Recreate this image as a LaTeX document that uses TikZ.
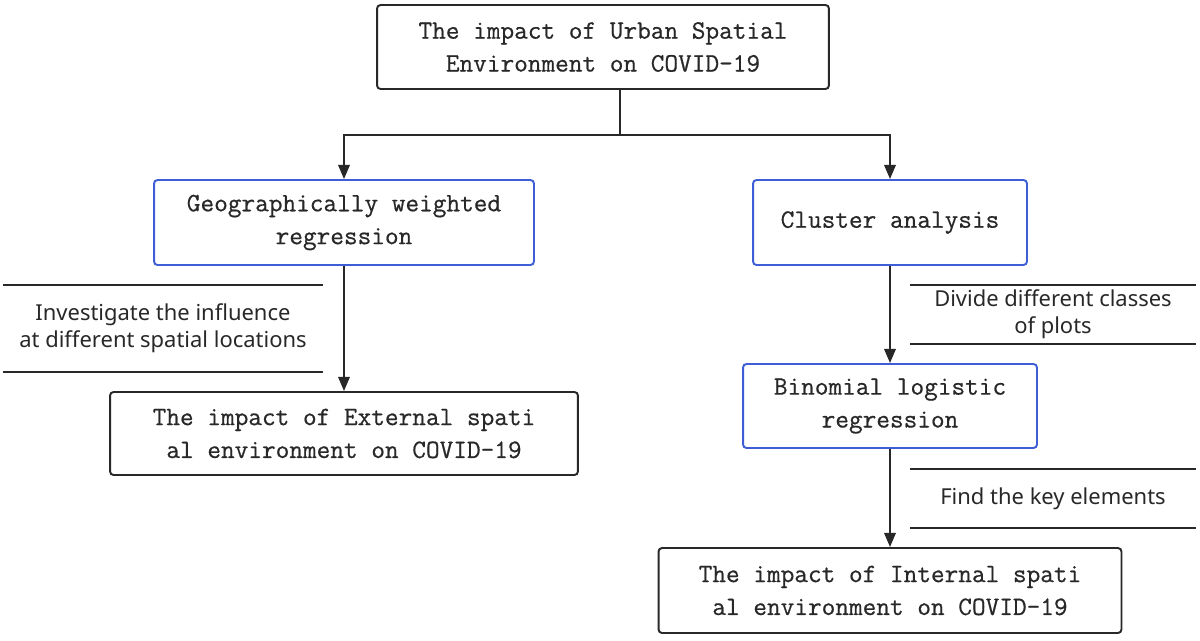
\documentclass[tikz,border=0pt]{standalone}
\usepackage{fontspec}
\setmainfont{Noto Sans}
\newfontfamily\boxfont[FakeBold=0.6]{Latin Modern Mono}
\usetikzlibrary{arrows.meta}
\definecolor{methodblue}{RGB}{62,94,214}
\definecolor{ink}{RGB}{40,40,40}

\begin{document}
\begin{tikzpicture}[x=0.02cm,y=-0.02cm,>={Triangle[length=8pt,width=6.5pt]},line width=1.1pt,color=ink]

\tikzstyle{plain}=[draw=ink,rounded corners=2pt,inner sep=0pt,align=center,font=\boxfont\fontsize{15.1}{18.7}\selectfont]
\tikzstyle{method}=[plain,draw=methodblue]
\tikzstyle{note}=[inner sep=0pt,align=center,font=\fontsize{12.5}{15.3}\selectfont]

    \path[use as bounding box] (0,0) rectangle (1200,640);

    % boxes
    \node[plain,minimum width=9.04cm,minimum height=1.68cm]  (urban) at (603,47)    {The impact of Urban Spatial\\Environment on COVID-19};
    \node[method,minimum width=7.6cm,minimum height=1.7cm]   (gwr)   at (344,222.5) {Geographically weighted\\regression};
    \node[method,minimum width=5.48cm,minimum height=1.7cm]  (clu)   at (890,222.5) {Cluster analysis};
    \node[plain,minimum width=9.36cm,minimum height=1.66cm]  (ext)   at (344,433.5) {The impact of External spati\\al environment on COVID-19};
    \node[method,minimum width=5.88cm,minimum height=1.68cm] (bin)   at (890,406)   {Binomial logistic\\regression};
    \node[plain,minimum width=9.26cm,minimum height=1.7cm]   (int)   at (890,590.5) {The impact of Internal spati\\al environment on COVID-19};

    % notes between two rules
    \node[note,minimum width=6.36cm,minimum height=1.7cm]  (why1) at (163,328.5)  {Investigate the influence\\at different spatial locations};
    \node[note,minimum width=5.68cm,minimum height=1.14cm] (why2) at (1053,314.5) {Divide different classes\\of plots};
    \node[note,minimum width=5.68cm,minimum height=1.14cm] (why3) at (1053,498.5) {Find the key elements};
    \foreach \n in {why1,why2,why3}
        \draw (\n.north west) -- (\n.north east) (\n.south west) -- (\n.south east);

    % connectors
    \coordinate (split) at (620,135);
    \draw (urban.south -| split) -- (split);
    \draw[->] (split) -| (gwr.north);
    \draw[->] (split) -| (clu.north);

    \path[->]
    (gwr) edge (ext)
    (clu) edge (bin)
    (bin) edge (int);

\end{tikzpicture}
\end{document}
